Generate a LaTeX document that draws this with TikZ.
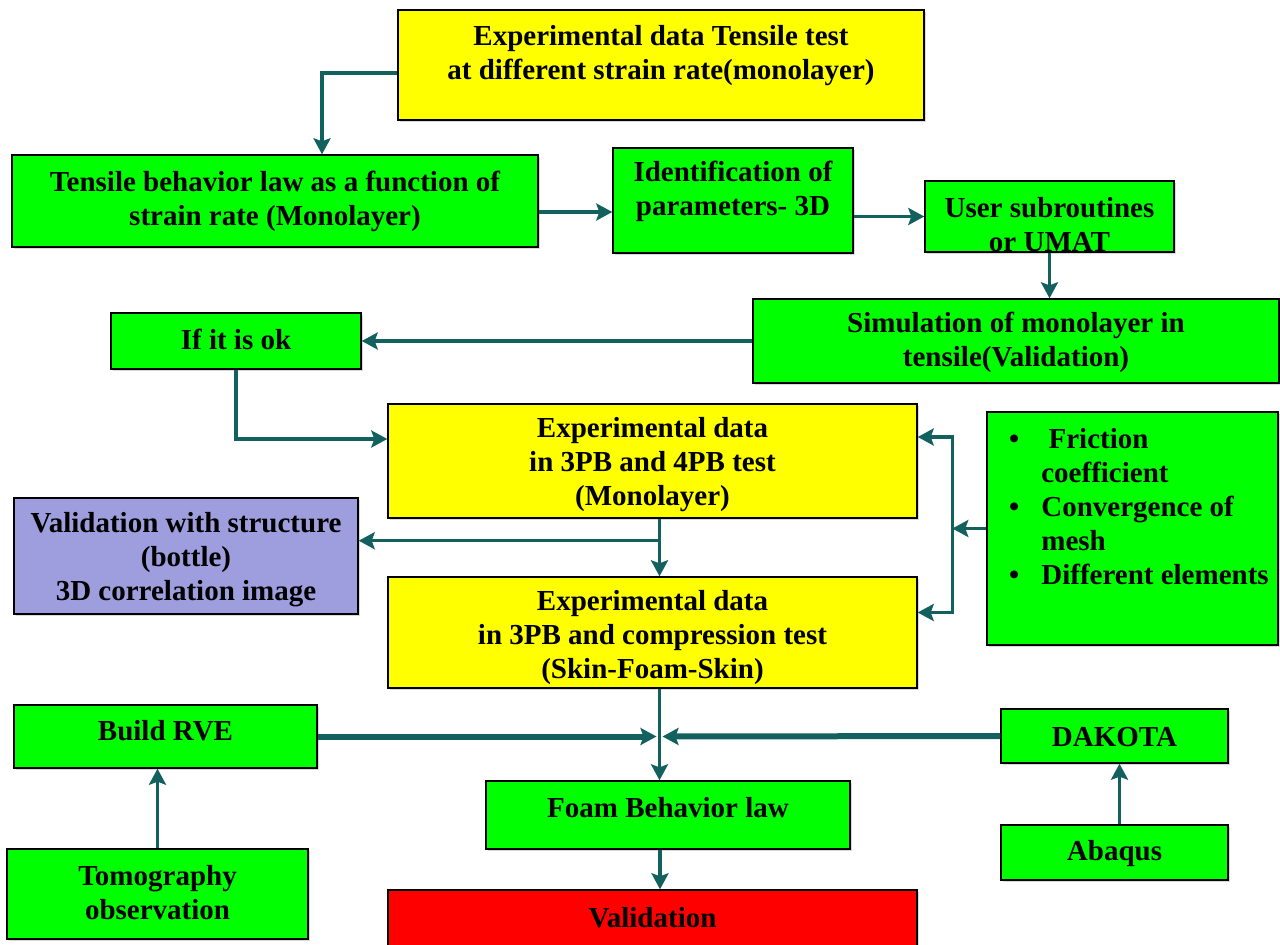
\documentclass[tikz,border=0pt]{standalone}
\usepackage{fontspec}
\setmainfont{Liberation Serif}
\usetikzlibrary{arrows.meta}
\usetikzlibrary{shadows}
\definecolor{myellow}{rgb}{1, 1, 0}
\definecolor{mgreen}{rgb}{0, 1, 0}
\definecolor{mred}{rgb}{1, 0, 0}
\definecolor{mpurple}{rgb}{0.62, 0.62, 0.87}
\definecolor{mteal}{rgb}{0.07, 0.38, 0.37}
\tikzset{box/.style = {draw = black, line width = 1.4pt, inner sep = 0pt,
                       drop shadow = {shadow xshift = 1.5pt, shadow yshift = -1.5pt, opacity = 0.3}},
         txt/.style = {align = center, inner sep = 0pt,
                       font = \fontsize{29}{34}\selectfont\bfseries},
         flowline/.style = {mteal, line width = 3.5pt},
         flow/.style = {flowline, -{Stealth[length = 16pt, width = 17pt, inset = 3pt]}}}

\begin{document}
\begin{tikzpicture}[x = 1pt, y = -1pt]
      \useasboundingbox (0, 0) rectangle (1280, 945);
      % boxes
      \node [box, fill = myellow, minimum width = 526pt, minimum height = 110pt] (tens) at (661, 65) {};
      \node [box, fill = mgreen, minimum width = 526pt, minimum height = 92pt] (law) at (275, 201) {};
      \node [box, fill = mgreen, minimum width = 240pt, minimum height = 105pt] (ident) at (733, 200.5) {};
      \node [box, fill = mgreen, minimum width = 249pt, minimum height = 71pt] (umat) at (1049.5, 216.5) {};
      \node [box, fill = mgreen, minimum width = 526pt, minimum height = 84pt] (simu) at (1016, 341) {};
      \node [box, fill = mgreen, minimum width = 250pt, minimum height = 56pt] (ok) at (236, 341) {};
      \node [box, fill = myellow, minimum width = 529pt, minimum height = 114pt] (exp4) at (652.5, 461) {};
      \node [box, fill = mpurple, minimum width = 344pt, minimum height = 116pt] (valid) at (186, 556) {};
      \node [box, fill = mgreen, minimum width = 291pt, minimum height = 233pt] (fric) at (1132.5, 528.5) {};
      \node [box, fill = myellow, minimum width = 529pt, minimum height = 111pt] (exp3) at (652.5, 632.5) {};
      \node [box, fill = mgreen, minimum width = 303pt, minimum height = 63pt] (rve) at (165.5, 736.5) {};
      \node [box, fill = mgreen, minimum width = 227pt, minimum height = 54pt] (dakota) at (1114.5, 736) {};
      \node [box, fill = mgreen, minimum width = 364pt, minimum height = 68pt] (foam) at (668, 815) {};
      \node [box, fill = mgreen, minimum width = 301pt, minimum height = 90pt] (tomo) at (157.5, 894) {};
      \node [box, fill = mgreen, minimum width = 227pt, minimum height = 55pt] (abaqus) at (1114.5, 852.5) {};
      \node [box, fill = mred, minimum width = 529pt, minimum height = 62pt] (final) at (652.5, 921) {};
      % texts
      \node [txt] (tenst) at (661, 56) {Experimental data Tensile test\\at different strain rate(monolayer)};
      \node [txt] (lawt) at (275, 201) {Tensile behavior law as a function of\\strain rate (Monolayer)};
      \node [txt] (identt) at (733, 191) {Identification of\\parameters- 3D};
      \node [txt] (umatt) at (1049.5, 225) {User subroutines\\or UMAT};
      \node [txt] (simut) at (1016, 342) {Simulation of monolayer in\\tensile(Validation)};
      \node [txt] (okt) at (236, 339) {If it is ok};
      \node [txt] (exp4t) at (652.5, 465) {Experimental data\\in 3PB and 4PB test\\(Monolayer)};
      \node [txt] (validt) at (186, 560) {Validation with structure\\(bottle)\\3D correlation image};
      \node [txt] (exp3t) at (652.5, 638) {Experimental data\\in 3PB and compression test\\(Skin-Foam-Skin)};
      \node [txt] (rvet) at (165.5, 731) {Build RVE};
      \node [txt] (dakotat) at (1114.5, 737) {DAKOTA};
      \node [txt] (foamt) at (668, 808) {Foam Behavior law};
      \node [txt] (tomot) at (157.5, 893) {Tomography\\observation};
      \node [txt] (abaqust) at (1114.5, 854) {Abaqus};
      \node [txt] (finalt) at (652.5, 918) {Validation};
      \node [txt, anchor = north west] (frict) at (1009, 424) {%
        \begin{tabular}{@{}c@{\hspace{22pt}}l@{}}
          \textbullet & \ Friction\\
                      & coefficient\\
          \textbullet & Convergence of\\
                      & mesh\\
          \textbullet & Different elements
        \end{tabular}};
      % connectors
      \draw [flow] ([yshift = -8pt] tens.west) -| ([xshift = 47pt] law.north);
      \draw [flow] ([yshift = -11pt] law.east) -- ([yshift = -11pt] law.east -| ident.west);
      \draw [flow] (umat.west -| ident.east) -- (umat.west);
      \draw [flow] (umat.south) -- (umat.south |- simu.north);
      \draw [flow] (simu.west) -- (simu.west -| ok.east);
      \draw [flow] (ok.south) |- ([yshift = 22pt] exp4.west);
      \draw [flow] ([xshift = 7pt] exp4.south) -- ([xshift = 7pt] exp3.north);
      \coordinate (split) at ([xshift = 7pt, yshift = -22pt] exp4.south);
      \draw [flow] (split) -- (split -| valid.east);
      \coordinate (bus) at ([xshift = -34pt] fric.west);
      \draw [flow] (fric.west) -- (bus);
      \draw [flow] (bus) |- ([yshift = 24pt] exp4.east);
      \draw [flow] (bus) |- ([yshift = 20pt] exp3.east);
      \draw [flow] ([xshift = 7pt] exp3.south) -- ([xshift = 7pt] exp3.south |- foam.north);
      \coordinate (meet) at ([xshift = 7pt] exp3.south |- rve.east);
      \draw [flow, line width = 6pt] (rve.east) -- ([xshift = -3pt] meet);
      \draw [flow, line width = 6pt] (dakota.west) -- ([xshift = 3pt] meet);
      \draw [flow] (tomo.north) -- (tomo.north |- rve.south);
      \draw [flow] ([xshift = 5pt] abaqus.north) -- ([xshift = 5pt] dakota.south);
      \draw [flow] ([xshift = -8pt] foam.south) -- ([xshift = -8pt] foam.south |- final.north);
\end{tikzpicture}
\end{document}
